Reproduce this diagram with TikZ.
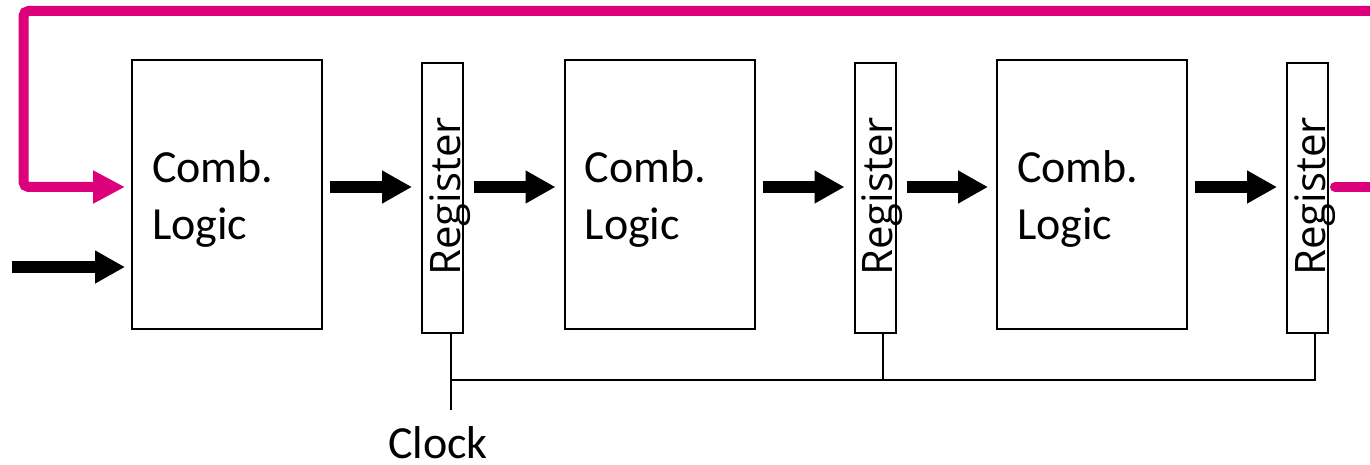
\documentclass[tikz,border=0pt]{standalone}
\usepackage{fontspec}
\setmainfont{Carlito}
\newfontfamily\regfont{Open Sans}
\usetikzlibrary{arrows.meta,calc}
\definecolor{loopmag}{RGB}{220,0,122}
\begin{document}
\begin{tikzpicture}[x=1pt,y=-1pt,
  combbox/.style={draw,line width=2pt,minimum width=190pt,minimum height=269pt,inner sep=0pt},
  regbox/.style={draw,line width=2pt,minimum width=41pt,minimum height=270pt,inner sep=0pt},
  combtext/.style={font=\fontsize{46}{55}\selectfont,anchor=base west,inner sep=0pt},
  regtext/.style={font=\regfont\fontsize{42}{50}\selectfont,rotate=90,anchor=base,inner sep=0pt},
  blk/.style={line width=12pt,-{Triangle[length=30pt,width=31pt]}},
  mag/.style={draw=loopmag,line width=10pt},
  clk/.style={line width=2pt}
]
\useasboundingbox (0,0) rectangle (1370,465);

% combinational blocks and registers
\node[combbox] (c1) at (227,194.5) {};
\node[combbox] (c2) at (659.5,194.5) {};
\node[combbox] (c3) at (1092,194.5) {};
\node[regbox] (r1) at (442.5,198) {};
\node[regbox] (r2) at (875,198) {};
\node[regbox] (r3) at (1307.5,198) {};

% block labels
\foreach \c in {c1,c2,c3}{
  \node[combtext] (\c top) at ($(\c.west)+(21,-11.5)$) {Comb.};
  \node[combtext] (\c bot) at ($(\c.west)+(21,45.5)$) {Logic};
}
\foreach \r in {r1,r2,r3}{
  \node[regtext] (\r lbl) at ($(\r.east)+(-4,-1.5)$) {Register};
}

% data path
\coordinate (in) at (12,267);
\draw[blk] (in) -- ($(c1.west)+(-6,72.5)$);
\draw[blk] ($(c1.east)+(7,-7.5)$) -- ($(r1.west)+(-9,-11)$);
\draw[blk] ($(r1.east)+(10,-11)$) -- ($(c2.west)+(-8,-7.5)$);
\draw[blk] ($(c2.east)+(7,-7.5)$) -- ($(r2.west)+(-9,-11)$);
\draw[blk] ($(r2.east)+(10,-11)$) -- ($(c3.west)+(-8,-7.5)$);
\draw[blk] ($(c3.east)+(7,-7.5)$) -- ($(r3.west)+(-9,-11)$);

% feedback loop
\coordinate (fbtop) at (1370,11);
\coordinate (fbout) at (1370,187);
\draw[mag,line cap=round] ($(r3.east)+(6,-11)$) -- (fbout);
\draw[mag,rounded corners=5pt,-{Triangle[length=32pt,width=31pt]}]
  (fbtop) -- (23.5,11) -- (23.5,187) -- ($(c1.west)+(-6,-7.5)$);

% clock distribution
\coordinate (ck1) at ($(r1.south)+(8.5,0)$);
\coordinate (ck2) at ($(r2.south)+(8,0)$);
\coordinate (ck3) at ($(r3.south)+(7.5,0)$);
\draw[clk] (ck1) -- ($(ck1)+(0,76)$) coordinate (ckend);
\draw[clk] ($(ck1)+(0,46)$) -- ($(ck3)+(0,46)$) -- (ck3);
\draw[clk] (ck2) -- ($(ck2)+(0,46)$);
\node[anchor=base,inner sep=0pt,font=\fontsize{46}{55}\selectfont] (clock) at ($(ckend)+(-13,48)$) {Clock};
\end{tikzpicture}
\end{document}
